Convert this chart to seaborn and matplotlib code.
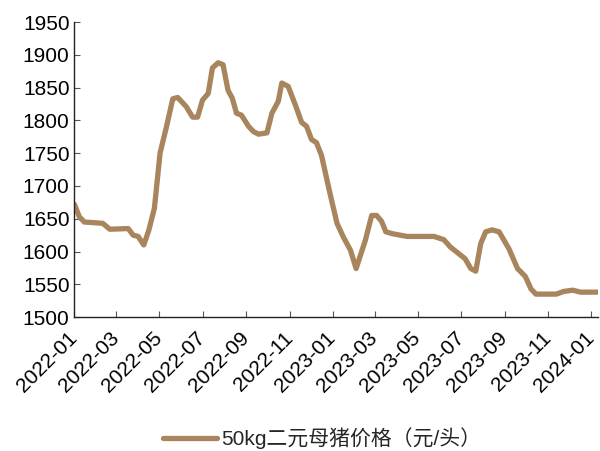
import matplotlib
matplotlib.use('Agg')
import matplotlib.pyplot as plt
import matplotlib.dates as mdates
import pandas as pd
import seaborn as sns

dates = ['2022-01-01', '2022-01-08', '2022-01-15', '2022-02-10', '2022-02-20', '2022-03-18',
         '2022-03-25', '2022-04-01', '2022-04-09', '2022-04-16', '2022-04-24', '2022-05-02',
         '2022-05-11', '2022-05-20', '2022-05-27', '2022-06-08', '2022-06-17', '2022-06-24',
         '2022-07-01', '2022-07-09', '2022-07-15', '2022-07-23', '2022-07-30', '2022-08-06',
         '2022-08-12', '2022-08-18', '2022-08-25', '2022-09-04', '2022-09-11', '2022-09-18',
         '2022-09-30', '2022-10-07', '2022-10-16', '2022-10-21', '2022-10-30', '2022-11-09',
         '2022-11-18', '2022-11-25', '2022-12-02', '2022-12-09', '2022-12-16', '2022-12-28',
         '2023-01-07', '2023-01-16', '2023-01-26', '2023-02-03', '2023-02-16', '2023-02-25',
         '2023-03-04', '2023-03-11', '2023-03-17', '2023-03-27', '2023-04-16', '2023-05-24',
         '2023-06-07', '2023-06-16', '2023-07-07', '2023-07-15', '2023-07-22', '2023-07-29',
         '2023-08-05', '2023-08-14', '2023-08-24', '2023-09-07', '2023-09-19', '2023-09-30',
         '2023-10-08', '2023-10-15', '2023-11-13', '2023-11-23', '2023-12-06', '2023-12-17',
         '2024-01-11']
price = [1672, 1653, 1645, 1643, 1634, 1635,
         1625, 1623, 1610, 1632, 1666, 1750,
         1790, 1833, 1835, 1821, 1805, 1805,
         1831, 1841, 1880, 1888, 1885, 1846,
         1834, 1811, 1808, 1791, 1783, 1779,
         1781, 1811, 1829, 1857, 1852, 1824,
         1797, 1791, 1771, 1766, 1747, 1689,
         1643, 1622, 1602, 1574, 1617, 1655,
         1655, 1646, 1630, 1627, 1623, 1623,
         1618, 1607, 1589, 1574, 1570, 1612,
         1630, 1633, 1630, 1604, 1574, 1562,
         1543, 1535, 1535, 1539, 1541, 1538,
         1538]

label = '50kg二元母猪价格（元/头）'
color = '#A8855C'

df = pd.DataFrame({'date': pd.to_datetime(dates), 'price': price})

sns.set_style('white')
plt.rcParams['font.family'] = ['Liberation Sans', 'Noto Sans CJK SC', 'DejaVu Sans']

fig = plt.figure(figsize=(6, 4.51), dpi=100)
ax = fig.add_axes([0.124, 0.297, 0.873, 0.654])
sns.lineplot(data=df, x='date', y='price', ax=ax, color=color, linewidth=3.8, label=label, legend=False)

ax.set_ylim(1500, 1950)
ax.set_yticks(range(1500, 1951, 50))
ax.set_xlim(df['date'].iloc[0], df['date'].iloc[-1])
ax.xaxis.set_major_locator(mdates.MonthLocator(bymonth=[1, 3, 5, 7, 9, 11]))
ax.xaxis.set_major_formatter(mdates.DateFormatter('%Y-%m'))
ax.set_xlabel('')
ax.set_ylabel('')
for s in ['top', 'right']:
    ax.spines[s].set_visible(False)
for s in ['left', 'bottom']:
    ax.spines[s].set_color('#222222')
    ax.spines[s].set_linewidth(1.0)
ax.tick_params(axis='both', direction='in', length=4.5, width=0.8, color='#555555',
               labelsize=15, labelcolor='black', bottom=True, left=True)
ax.tick_params(axis='x', pad=13)
plt.setp(ax.get_xticklabels(), rotation=45, ha='right', va='center', rotation_mode='anchor')

handles, labels = ax.get_legend_handles_labels()
fig.legend(handles, labels, loc='center', bbox_to_anchor=(0.537, 0.028), frameon=False,
           fontsize=15, handlelength=2.6, handletextpad=0.2)

fig.savefig('out.png', dpi=100)
